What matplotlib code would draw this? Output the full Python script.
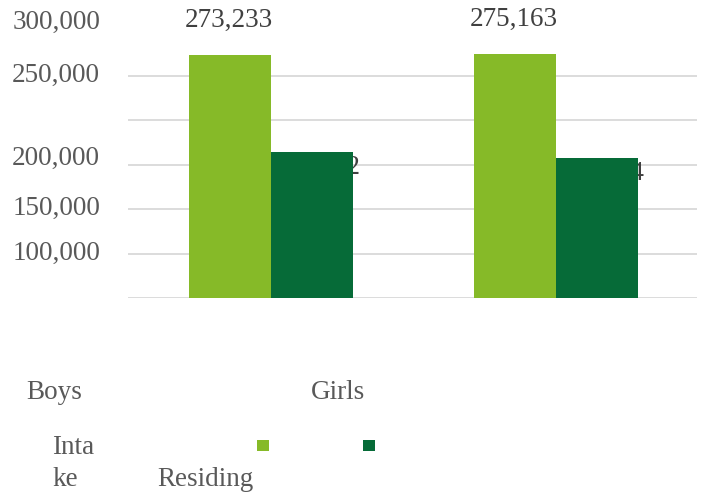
import matplotlib
matplotlib.use("Agg")
import matplotlib.pyplot as plt
from matplotlib.patches import Rectangle

plt.rcParams['font.family'] = ['Liberation Serif', 'DejaVu Serif']

# data
categories = ['Boys', 'Girls']
intake = [273233, 275163]
residing = [164412, 157654]
series_names = ['Intake', 'Residing']
tick_labels = ['300,000', '250,000', '200,000', '150,000', '100,000']

light = '#86BA28'
dark = '#066B38'
grey = '#595959'
fs = 19.5

W, H = 702, 498
fig = plt.figure(figsize=(W / 100, H / 100), dpi=100, facecolor='white')

def fx(px):
    return px / W

def fy(py):
    return 1 - py / H

# plot area
ax = fig.add_axes([fx(128), fy(298), fx(697) - fx(128), fy(31.6) - fy(298)])
ax.set_xlim(-0.5, 1.5)
ax.set_ylim(0, 300000)
ax.set_yticks([0, 50000, 100000, 150000, 200000, 250000])
ax.set_yticklabels([])
ax.set_xticks([])
ax.tick_params(length=0)
ax.grid(axis='y', color='#d9d9d9', linewidth=1.3)
ax.set_axisbelow(True)
for s in ax.spines.values():
    s.set_visible(False)

w = 0.288
x = list(range(len(categories)))
ax.bar([i - w / 2 + 0.003 for i in x], intake, width=w, color=light, zorder=3)
ax.bar([i + w / 2 + 0.003 for i in x], residing, width=w, color=dark, zorder=3)

# data labels (residing ones sit behind the bars, as in the source)
for i, v in zip(x, intake):
    ax.annotate(f'{v:,}', (i - w / 2, v), xytext=(0, 25), textcoords='offset points',
                ha='center', va='center', fontsize=fs, color='#404040', zorder=4)
for i, v in zip(x, residing):
    ax.annotate(f'{v:,}', (i + w / 2 + 0.018, v), xytext=(0, -11), textcoords='offset points',
                ha='center', va='center', fontsize=fs, color='#404040', zorder=1)

# y tick labels (misplaced in the source)
for lab, py in zip(tick_labels, [22, 75, 158, 208, 253]):
    fig.text(fx(100), fy(py), lab, ha='right', va='center', fontsize=fs, color=grey)

# category labels
fig.text(fx(26), fy(392), categories[0], ha='left', va='center', fontsize=fs, color=grey)
fig.text(fx(311), fy(392), categories[1], ha='left', va='center', fontsize=fs, color=grey)

# legend
fig.text(fx(52), fy(447), 'Inta', ha='left', va='center', fontsize=fs, color=grey)
fig.text(fx(52), fy(479), 'ke', ha='left', va='center', fontsize=fs, color=grey)
fig.text(fx(157), fy(479), series_names[1], ha='left', va='center', fontsize=fs, color=grey)
for px, c in [(257, light), (363, dark)]:
    fig.patches.append(Rectangle((fx(px), fy(451)), fx(11.5), 11.5 / H,
                                 transform=fig.transFigure, facecolor=c, edgecolor='none'))

plt.savefig('out.png', dpi=100, facecolor='white')
plt.close()
